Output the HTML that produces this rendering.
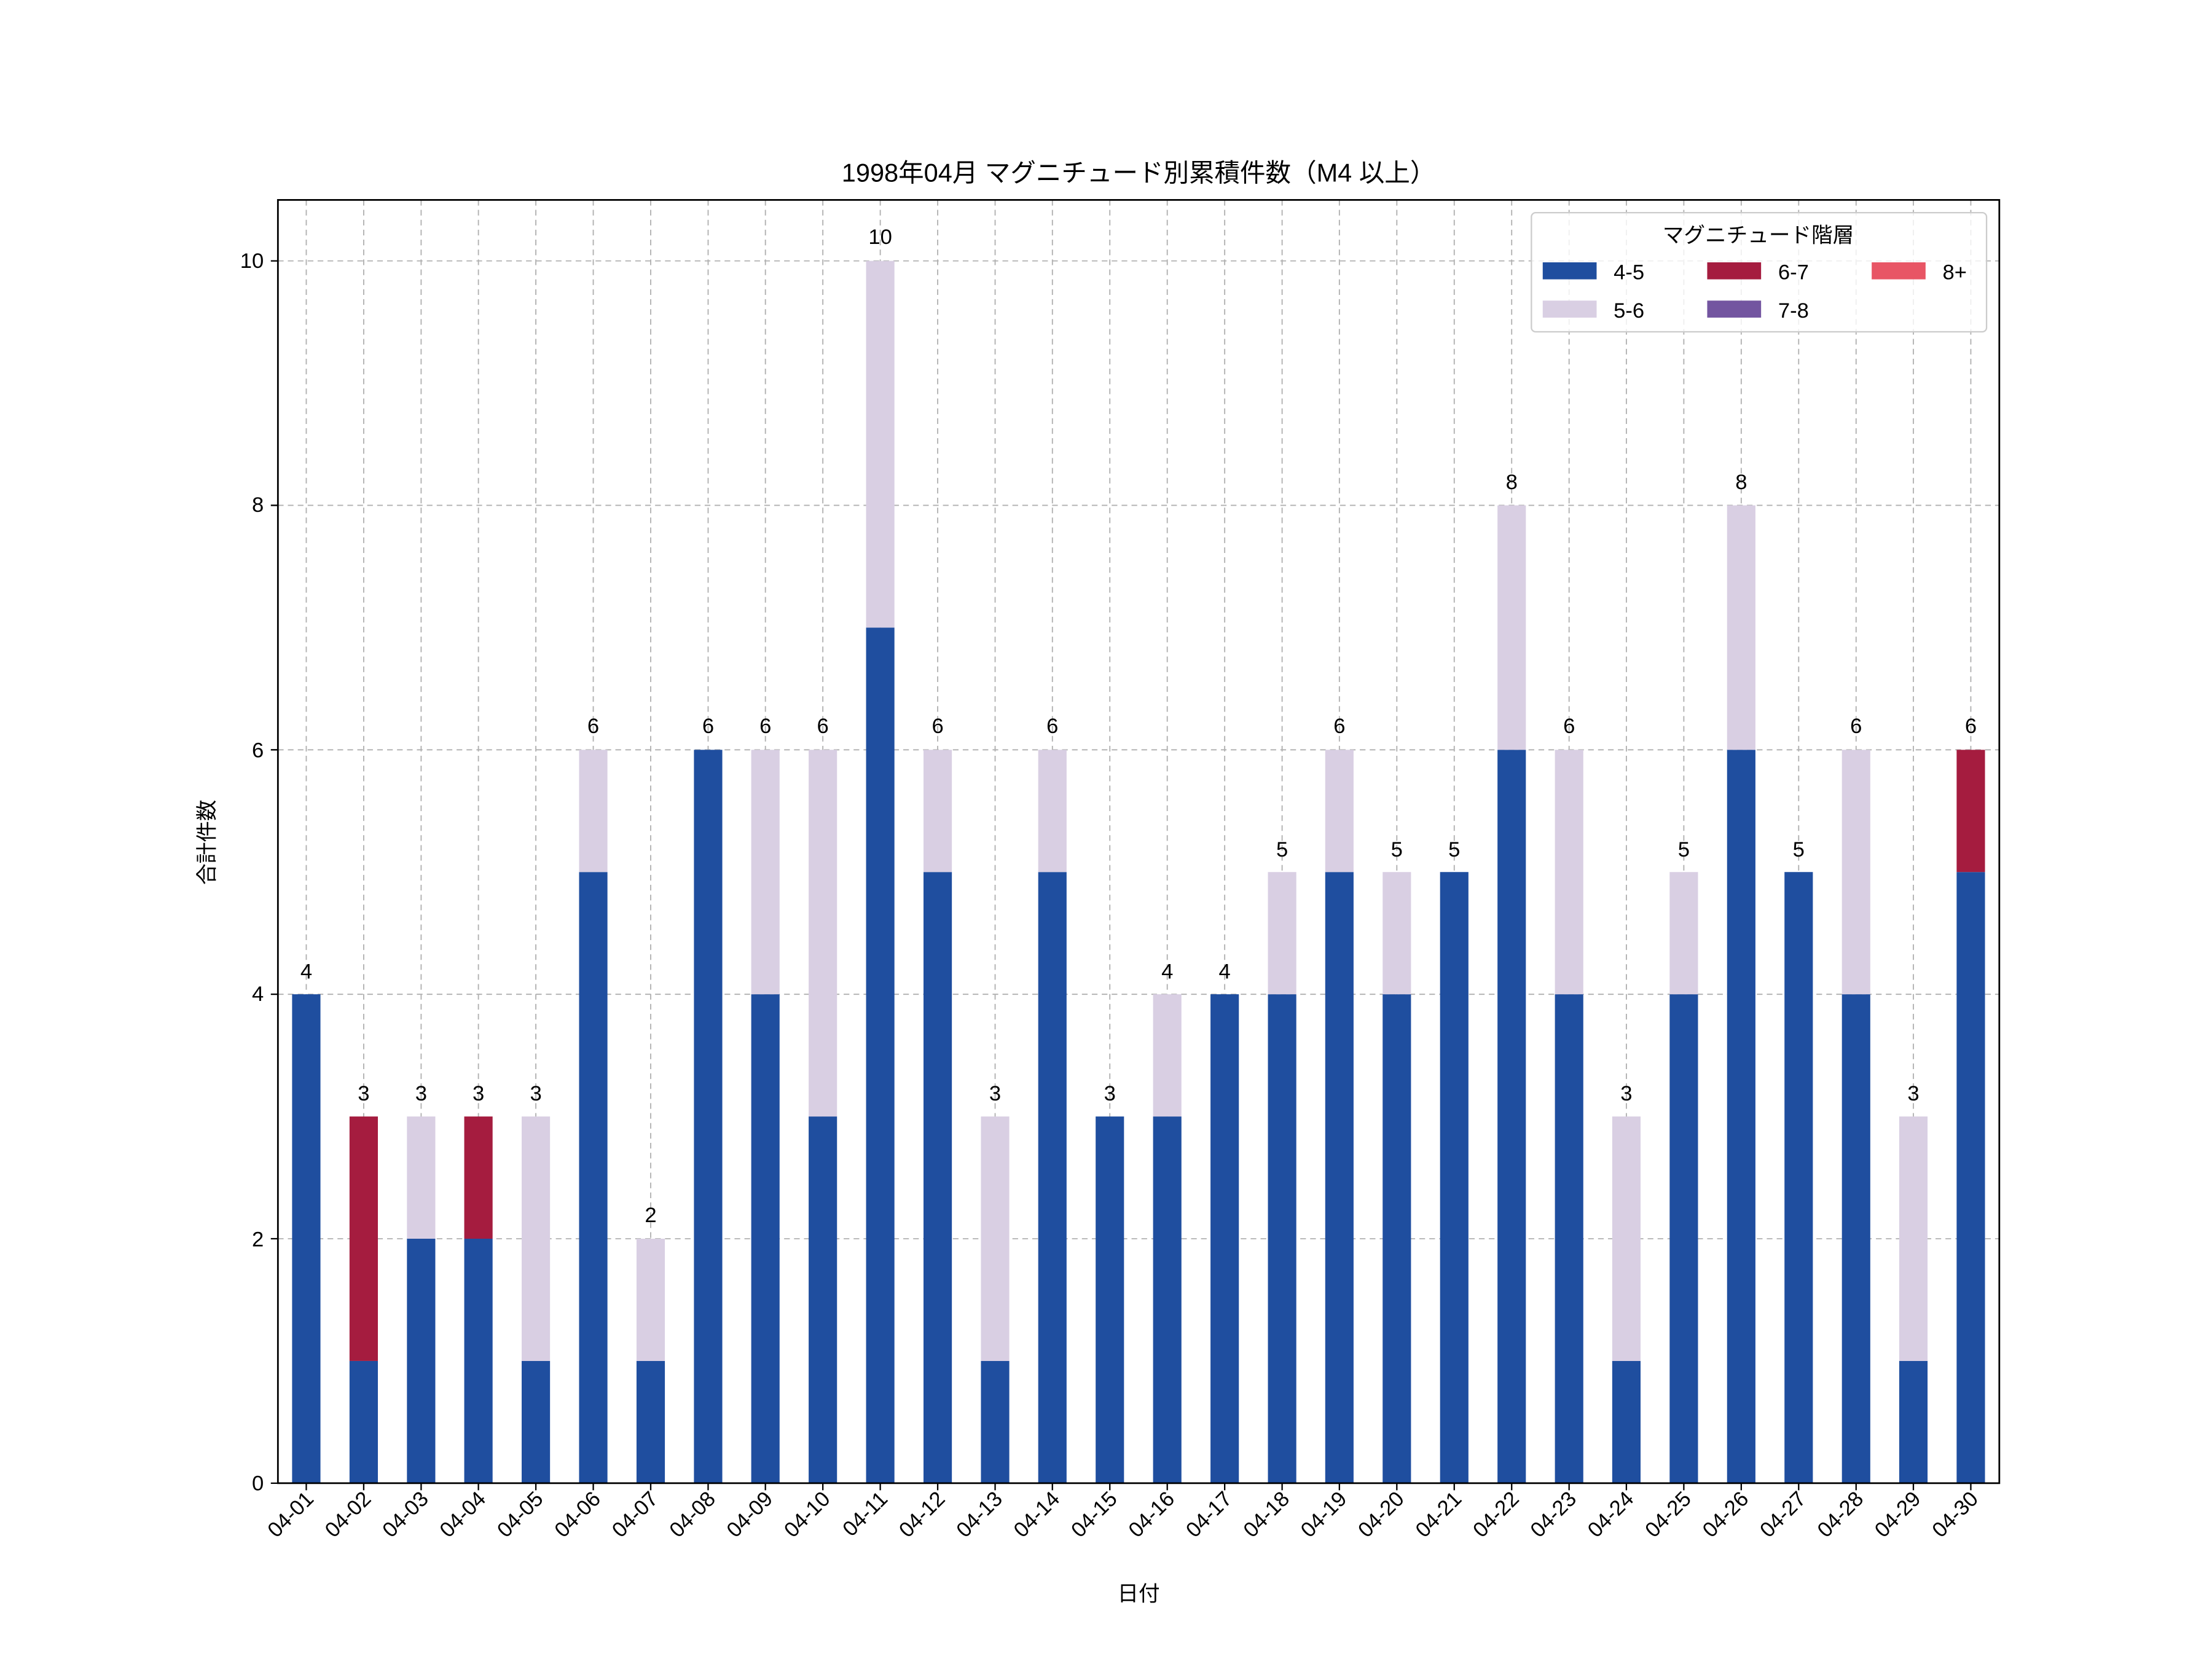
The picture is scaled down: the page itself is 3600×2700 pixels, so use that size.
<!DOCTYPE html>
<html><head><meta charset="utf-8"><style>html,body{margin:0;padding:0;background:#fff}svg{display:block}text{font-family:"Liberation Sans","Noto Sans CJK JP",sans-serif;fill:#000}</style></head><body>
<svg width="3600" height="2700" viewBox="0 0 1560 1170" xmlns="http://www.w3.org/2000/svg">
<rect width="1560" height="1170" fill="#fff"/>
<g stroke="#b0b0b0" stroke-width="0.8" stroke-dasharray="4,3" fill="none">
<path d="M196 1046H1410M196 873.6H1410M196 701.2H1410M196 528.8H1410M196 356.4H1410M196 184H1410"/>
<path d="M216 141V1046M256.5 141V1046M297 141V1046M337.4 141V1046M377.9 141V1046M418.4 141V1046M458.9 141V1046M499.4 141V1046M539.8 141V1046M580.3 141V1046M620.8 141V1046M661.3 141V1046M701.8 141V1046M742.2 141V1046M782.7 141V1046M823.2 141V1046M863.7 141V1046M904.2 141V1046M944.6 141V1046M985.1 141V1046M1025.6 141V1046M1066.1 141V1046M1106.6 141V1046M1147 141V1046M1187.5 141V1046M1228 141V1046M1268.5 141V1046M1309 141V1046M1349.4 141V1046M1389.9 141V1046"/>
</g>
<g transform="translate(0,1046) scale(1,-86.2)">
<g fill="#1f4e9f">
<rect x="206" y="0" width="20" height="4"/><rect x="246.5" y="0" width="20" height="1"/><rect x="287" y="0" width="20" height="2"/><rect x="327.4" y="0" width="20" height="2"/><rect x="367.9" y="0" width="20" height="1"/><rect x="408.4" y="0" width="20" height="5"/><rect x="448.9" y="0" width="20" height="1"/><rect x="489.4" y="0" width="20" height="6"/><rect x="529.8" y="0" width="20" height="4"/><rect x="570.3" y="0" width="20" height="3"/><rect x="610.8" y="0" width="20" height="7"/><rect x="651.3" y="0" width="20" height="5"/><rect x="691.8" y="0" width="20" height="1"/><rect x="732.2" y="0" width="20" height="5"/><rect x="772.7" y="0" width="20" height="3"/><rect x="813.2" y="0" width="20" height="3"/><rect x="853.7" y="0" width="20" height="4"/><rect x="894.2" y="0" width="20" height="4"/><rect x="934.6" y="0" width="20" height="5"/><rect x="975.1" y="0" width="20" height="4"/><rect x="1015.6" y="0" width="20" height="5"/><rect x="1056.1" y="0" width="20" height="6"/><rect x="1096.6" y="0" width="20" height="4"/><rect x="1137" y="0" width="20" height="1"/><rect x="1177.5" y="0" width="20" height="4"/><rect x="1218" y="0" width="20" height="6"/><rect x="1258.5" y="0" width="20" height="5"/><rect x="1299" y="0" width="20" height="4"/><rect x="1339.4" y="0" width="20" height="1"/><rect x="1379.9" y="0" width="20" height="5"/>
</g>
<g fill="#d9cfe3">
<rect x="287" y="2" width="20" height="1"/><rect x="367.9" y="1" width="20" height="2"/><rect x="408.4" y="5" width="20" height="1"/><rect x="448.9" y="1" width="20" height="1"/><rect x="529.8" y="4" width="20" height="2"/><rect x="570.3" y="3" width="20" height="3"/><rect x="610.8" y="7" width="20" height="3"/><rect x="651.3" y="5" width="20" height="1"/><rect x="691.8" y="1" width="20" height="2"/><rect x="732.2" y="5" width="20" height="1"/><rect x="813.2" y="3" width="20" height="1"/><rect x="894.2" y="4" width="20" height="1"/><rect x="934.6" y="5" width="20" height="1"/><rect x="975.1" y="4" width="20" height="1"/><rect x="1056.1" y="6" width="20" height="2"/><rect x="1096.6" y="4" width="20" height="2"/><rect x="1137" y="1" width="20" height="2"/><rect x="1177.5" y="4" width="20" height="1"/><rect x="1218" y="6" width="20" height="2"/><rect x="1299" y="4" width="20" height="2"/><rect x="1339.4" y="1" width="20" height="2"/>
</g>
<g fill="#a51c3f">
<rect x="246.5" y="1" width="20" height="2"/><rect x="327.4" y="2" width="20" height="1"/><rect x="1379.9" y="5" width="20" height="1"/>
</g>
</g>
<rect x="196" y="141" width="1214" height="905" fill="none" stroke="#000" stroke-width="1.2"/>
<g stroke="#000" stroke-width="1"><path d="M196 1046h-5M196 873.6h-5M196 701.2h-5M196 528.8h-5M196 356.4h-5M196 184h-5"/></g>
<g font-size="15" text-anchor="end"><text x="186" y="1051">0</text><text x="186" y="879">2</text><text x="186" y="706">4</text><text x="186" y="534">6</text><text x="186" y="361">8</text><text x="186" y="189">10</text></g>
<g stroke="#000" stroke-width="1"><path d="M216 1046v5M256.5 1046v5M297 1046v5M337.4 1046v5M377.9 1046v5M418.4 1046v5M458.9 1046v5M499.4 1046v5M539.8 1046v5M580.3 1046v5M620.8 1046v5M661.3 1046v5M701.8 1046v5M742.2 1046v5M782.7 1046v5M823.2 1046v5M863.7 1046v5M904.2 1046v5M944.6 1046v5M985.1 1046v5M1025.6 1046v5M1066.1 1046v5M1106.6 1046v5M1147 1046v5M1187.5 1046v5M1228 1046v5M1268.5 1046v5M1309 1046v5M1349.4 1046v5M1389.9 1046v5"/></g>
<g font-size="15" text-anchor="end">
<text transform="translate(222,1058) rotate(-45)">04-01</text><text transform="translate(262.5,1058) rotate(-45)">04-02</text><text transform="translate(303,1058) rotate(-45)">04-03</text><text transform="translate(343.4,1058) rotate(-45)">04-04</text><text transform="translate(383.9,1058) rotate(-45)">04-05</text><text transform="translate(424.4,1058) rotate(-45)">04-06</text><text transform="translate(464.9,1058) rotate(-45)">04-07</text><text transform="translate(505.4,1058) rotate(-45)">04-08</text><text transform="translate(545.8,1058) rotate(-45)">04-09</text><text transform="translate(586.3,1058) rotate(-45)">04-10</text><text transform="translate(626.8,1058) rotate(-45)">04-11</text><text transform="translate(667.3,1058) rotate(-45)">04-12</text><text transform="translate(707.8,1058) rotate(-45)">04-13</text><text transform="translate(748.2,1058) rotate(-45)">04-14</text><text transform="translate(788.7,1058) rotate(-45)">04-15</text><text transform="translate(829.2,1058) rotate(-45)">04-16</text><text transform="translate(869.7,1058) rotate(-45)">04-17</text><text transform="translate(910.2,1058) rotate(-45)">04-18</text><text transform="translate(950.6,1058) rotate(-45)">04-19</text><text transform="translate(991.1,1058) rotate(-45)">04-20</text><text transform="translate(1031.6,1058) rotate(-45)">04-21</text><text transform="translate(1072.1,1058) rotate(-45)">04-22</text><text transform="translate(1112.6,1058) rotate(-45)">04-23</text><text transform="translate(1153,1058) rotate(-45)">04-24</text><text transform="translate(1193.5,1058) rotate(-45)">04-25</text><text transform="translate(1234,1058) rotate(-45)">04-26</text><text transform="translate(1274.5,1058) rotate(-45)">04-27</text><text transform="translate(1315,1058) rotate(-45)">04-28</text><text transform="translate(1355.4,1058) rotate(-45)">04-29</text><text transform="translate(1395.9,1058) rotate(-45)">04-30</text>
</g>
<g font-size="15" text-anchor="middle">
<text x="216" y="690">4</text><text x="256.5" y="776">3</text><text x="297" y="776">3</text><text x="337.4" y="776">3</text><text x="377.9" y="776">3</text><text x="418.4" y="517">6</text><text x="458.9" y="862">2</text><text x="499.4" y="517">6</text><text x="539.8" y="517">6</text><text x="580.3" y="517">6</text><text x="620.8" y="172">10</text><text x="661.3" y="517">6</text><text x="701.8" y="776">3</text><text x="742.2" y="517">6</text><text x="782.7" y="776">3</text><text x="823.2" y="690">4</text><text x="863.7" y="690">4</text><text x="904.2" y="604">5</text><text x="944.6" y="517">6</text><text x="985.1" y="604">5</text><text x="1025.6" y="604">5</text><text x="1066.1" y="345">8</text><text x="1106.6" y="517">6</text><text x="1147" y="776">3</text><text x="1187.5" y="604">5</text><text x="1228" y="345">8</text><text x="1268.5" y="604">5</text><text x="1309" y="517">6</text><text x="1349.4" y="776">3</text><text x="1389.9" y="517">6</text>
</g>
<text x="803" y="128" font-size="18" text-anchor="middle">1998年04月 マグニチュード別累積件数（M4 以上）</text>
<text x="803" y="1129" font-size="15" text-anchor="middle">日付</text>
<text transform="translate(151,594) rotate(-90)" font-size="15" text-anchor="middle">合計件数</text>
<rect x="1080" y="150" width="321" height="84" rx="3" fill="#fff" fill-opacity="0.8" stroke="#ccc"/>
<text x="1240" y="171" font-size="15" text-anchor="middle">マグニチュード階層</text>
<rect x="1088" y="185" width="38" height="12" fill="#1f4e9f"/><text x="1138" y="197" font-size="15">4-5</text>
<rect x="1088" y="212" width="38" height="12" fill="#d9cfe3"/><text x="1138" y="224" font-size="15">5-6</text>
<rect x="1204" y="185" width="38" height="12" fill="#a51c3f"/><text x="1254" y="197" font-size="15">6-7</text>
<rect x="1204" y="212" width="38" height="12" fill="#7355a0"/><text x="1254" y="224" font-size="15">7-8</text>
<rect x="1320" y="185" width="38" height="12" fill="#e85565"/><text x="1370" y="197" font-size="15">8+</text>
</svg>
</body></html>
